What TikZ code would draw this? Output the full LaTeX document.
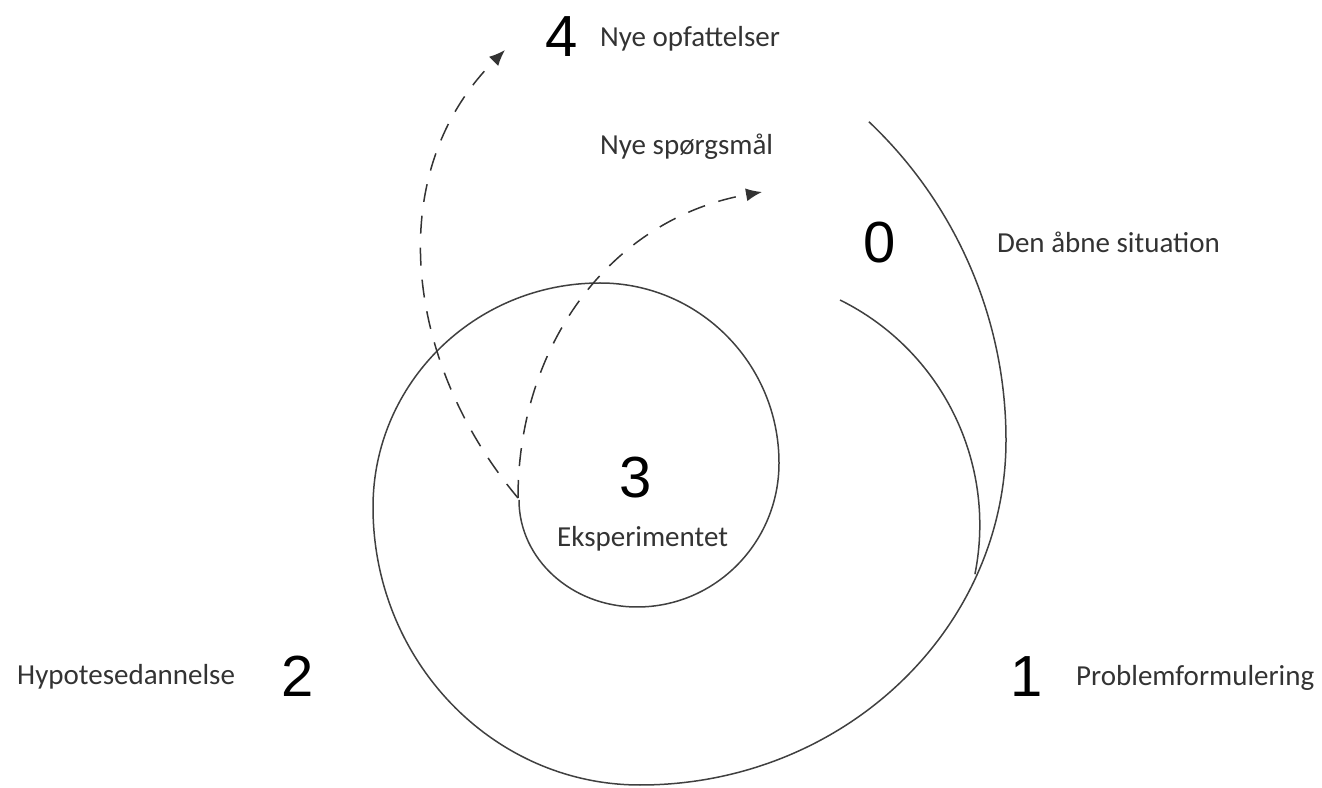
\documentclass[tikz,border=0pt]{standalone}
\usepackage{fontspec}
\setmainfont{Carlito}
\newfontfamily\digitfont{Liberation Sans}
\usetikzlibrary{arrows.meta}
\begin{document}
\begin{tikzpicture}[x=1pt,y=1pt,
  curve/.style={line width=1.5pt, draw=black!75},
  dasharrow/.style={line width=1.5pt, draw=black!80, dash pattern=on 18pt off 14pt, -{Latex[length=16pt,width=13pt]}},
  lbl/.style={font=\fontsize{29}{34}\selectfont, text=black!80, inner sep=0pt, anchor=base west},
  num/.style={font=\digitfont\fontsize{58}{64}\selectfont, inner sep=0pt, anchor=base}]
\useasboundingbox (0,0) rectangle (1322,787);
% spiral
\coordinate (s0) at (519,287);
\draw[curve] (s0) arc[start angle=180, end angle=270, x radius=118, y radius=107]
  arc[start angle=270, end angle=360, x radius=142, y radius=144]
  arc[start angle=0, end angle=90, x radius=179, y radius=180]
  arc[start angle=90, end angle=180, x radius=227, y radius=224]
  arc[start angle=180, end angle=270, x radius=267, y radius=278]
  arc[start angle=270, end angle=360, x radius=366, y radius=345]
  arc[start angle=0, end angle=46.6, radius=438];
% inner branch
\coordinate (b0) at (840,487);
\draw[curve] (b0) arc[start angle=63.7, end angle=-11.3, radius=251];
% dashed arrows
\coordinate (d0) at (518,289);
\coordinate (t4) at (505,737);
\coordinate (tq) at (762,595);
\draw[dasharrow] (d0) to[out=130,in=225] (t4);
\draw[dasharrow] (d0) to[out=90,in=190] (tq);
% labels
\node[num] (n4) at (562,730) {4};
\node[lbl] (l4) at (600,740) {Nye opfattelser};
\node[lbl] (lq) at (600,632) {Nye spørgsmål};
\node[num] (n0) at (880,524) {0};
\node[lbl] (l0) at (997,534) {Den åbne situation};
\node[num] (n3) at (636,289) {3};
\node[lbl] (l3) at (557,240) {Eksperimentet};
\node[lbl] (l2) at (17,102) {Hypotesedannelse};
\node[num] (n2) at (298,90) {2};
\node[num] (n1) at (1027,90) {1};
\node[lbl] (l1) at (1076,101) {Problemformulering};
\end{tikzpicture}
\end{document}
